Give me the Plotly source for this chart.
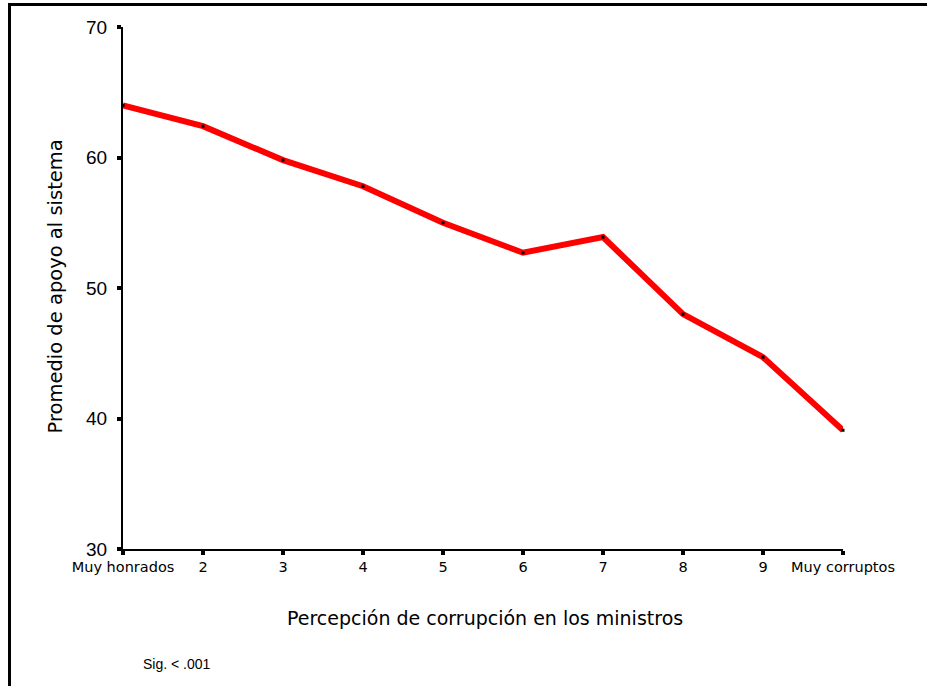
import plotly.graph_objects as go

categories = [1, 2, 3, 4, 5, 6, 7, 8, 9, 10]
tick_labels = ["Muy honrados", "2", "3", "4", "5", "6", "7", "8", "9", "Muy corruptos"]
apoyo = [64.0, 62.4, 59.8, 57.8, 55.0, 52.7, 53.9, 48.0, 44.7, 39.1]
y_ticks = [30, 40, 50, 60, 70]

L, R, T, B = 123, 84, 27, 137
W, H = 927, 686
pw, ph = W - L - R, H - T - B

def px(x):
    return (x - L) / pw

def py(y):
    return (H - B - y) / ph

fig = go.Figure()
fig.add_trace(go.Scatter(
    x=categories, y=apoyo, mode="lines+markers",
    line=dict(color="#ff0000", width=6),
    marker=dict(symbol="square", size=3, color="black"),
    cliponaxis=False, hoverinfo="skip", showlegend=False,
))

fig.update_layout(
    width=W, height=H,
    margin=dict(l=L, r=R, t=T, b=B, pad=0),
    paper_bgcolor="white", plot_bgcolor="white",
    font=dict(family="Liberation Sans, Arial, sans-serif", color="black"),
    xaxis=dict(
        range=[1, 10], tickmode="array", tickvals=categories, ticktext=tick_labels,
        showgrid=False, zeroline=False, showline=True, linecolor="black", linewidth=2,
        ticks="outside", ticklen=4, tickwidth=4, tickcolor="black",
        tickfont=dict(family="DejaVu Sans, sans-serif", size=14.5),
        fixedrange=True,
    ),
    yaxis=dict(
        range=[30, 70], tickmode="array", tickvals=y_ticks,
        showgrid=False, zeroline=False, showline=True, linecolor="black", linewidth=2,
        ticks="outside", ticklen=4, tickwidth=4, tickcolor="black",
        tickfont=dict(size=19), ticklabelstandoff=6,
        fixedrange=True,
    ),
    shapes=[
        dict(type="line", xref="paper", yref="paper", x0=px(9.5), x1=px(W + 5), y0=py(4.5), y1=py(4.5),
             line=dict(color="black", width=3)),
        dict(type="line", xref="paper", yref="paper", x0=px(9.5), x1=px(9.5), y0=py(3), y1=py(H + 5),
             line=dict(color="black", width=3)),
    ],
    annotations=[
        dict(text="Percepción de corrupción en los ministros", xref="paper", yref="paper",
             x=px(485), y=py(618), xanchor="center", yanchor="middle", showarrow=False,
             font=dict(family="DejaVu Sans, sans-serif", size=19)),
        dict(text="Promedio de apoyo al sistema", xref="paper", yref="paper",
             x=px(55), y=py(286.5), xanchor="center", yanchor="middle", showarrow=False,
             textangle=-90, font=dict(family="DejaVu Sans, sans-serif", size=19.5)),
        dict(text="Sig. < .001", xref="paper", yref="paper",
             x=px(177), y=py(664), xanchor="center", yanchor="middle", showarrow=False,
             font=dict(size=14)),
    ],
)

fig.write_html(
    "out.html",
    config={"displayModeBar": False},
    post_script="document.body.style.margin='0';document.body.style.overflow='hidden';",
)
